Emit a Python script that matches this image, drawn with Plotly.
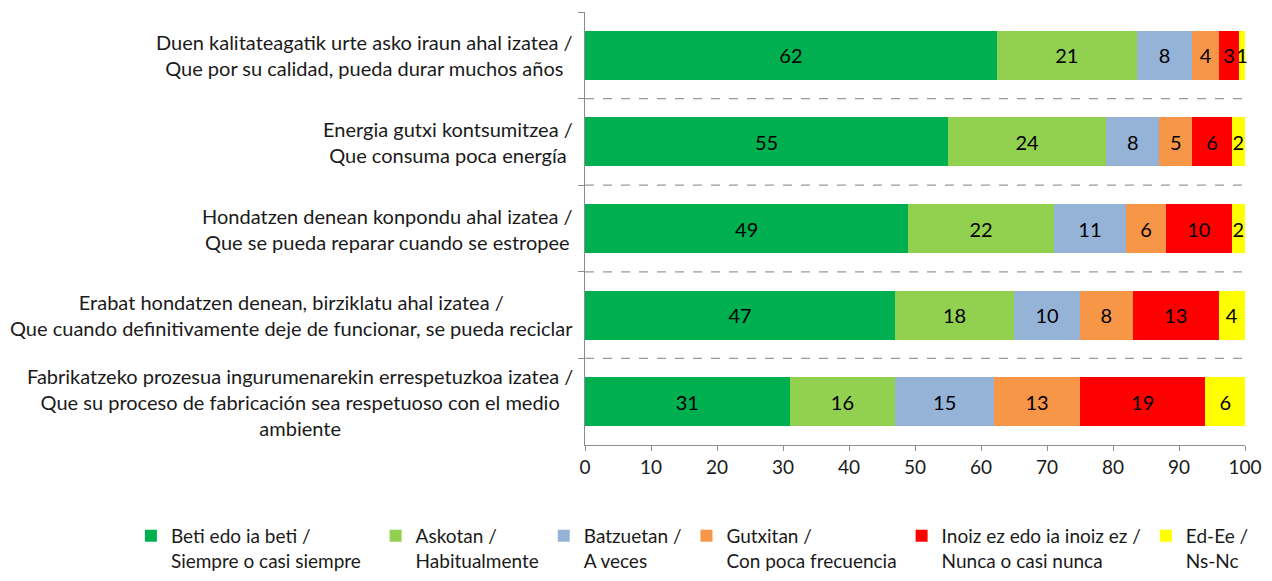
import plotly.graph_objects as go

categories = [
    "Duen kalitateagatik urte asko iraun ahal izatea /<br>Que por su calidad, pueda durar muchos años",
    "Energia gutxi kontsumitzea /<br>Que consuma poca energía",
    "Hondatzen denean konpondu ahal izatea /<br>Que se pueda reparar cuando se estropee",
    "Erabat hondatzen denean, birziklatu ahal izatea /<br>Que cuando definitivamente deje de funcionar, se pueda reciclar",
    "Fabrikatzeko prozesua ingurumenarekin errespetuzkoa izatea /<br>Que su proceso de fabricación sea respetuoso con el medio<br>ambiente",
]

series_line1 = ["Beti edo ia beti /", "Askotan /", "Batzuetan /", "Gutxitan /",
                "Inoiz ez edo ia inoiz ez /", "Ed-Ee /"]
series_line2 = ["Siempre o casi siempre", "Habitualmente", "A veces",
                "Con poca frecuencia", "Nunca o casi nunca", "Ns-Nc"]

beti = [62.4, 55, 49, 47, 31]
askotan = [21.2, 24, 22, 18, 16]
batzuetan = [8.4, 8, 11, 10, 15]
gutxitan = [4.1, 5, 6, 8, 13]
inoiz = [3.0, 6, 10, 13, 19]
ed_ee = [0.9, 2, 2, 4, 6]

x_ticks = [0, 10, 20, 30, 40, 50, 60, 70, 80, 90, 100]

colors = ["#00B050", "#92D050", "#95B3D7", "#F79646", "#FF0000", "#FFFF00"]
series_values = [beti, askotan, batzuetan, gutxitan, inoiz, ed_ee]

# extra spacing after some legend entries (to mimic the Excel legend layout)
legend_pad = [2, 0, 0, 0, 0, 0]

FONT = "Lato, 'Open Sans', sans-serif"

fig = go.Figure()
for l1, l2, vals, col, pad in zip(series_line1, series_line2, series_values, colors, legend_pad):
    sp = "\u00a0" * pad
    fig.add_trace(go.Bar(
        y=categories, x=vals, name=l1 + sp + "<br>" + l2 + sp, orientation="h",
        marker=dict(color=col, line=dict(width=0)),
        text=vals, texttemplate="%{x:.0f}", textposition="inside",
        insidetextanchor="middle", constraintext="none", textangle=0,
        textfont=dict(color="black", size=20, family=FONT),
        cliponaxis=False, hoverinfo="skip",
    ))

# category labels (centered multi-line, like Excel)
for c in categories:
    fig.add_annotation(
        x=-0.015, xref="paper", y=c, yref="y", text=c, showarrow=False,
        xanchor="right", yanchor="middle", align="center",
        font=dict(size=20, family=FONT, color="#1a1a1a"),
    )

# dashed separators between categories
for i in range(len(categories) - 1):
    fig.add_shape(
        type="line", xref="x", yref="y", x0=0, x1=100, y0=i + 0.5, y1=i + 0.5,
        line=dict(color="#9a9a9a", width=1.2, dash="dash"),
    )

fig.update_layout(
    barmode="stack",
    bargap=0.434,
    width=1256, height=565,
    margin=dict(l=577, r=19, t=4, b=128, autoexpand=False),
    paper_bgcolor="white", plot_bgcolor="white",
    font=dict(family=FONT, size=20, color="#1a1a1a"),
    xaxis=dict(
        range=[0, 100], tickvals=x_ticks, showgrid=False, zeroline=False,
        showline=True, linecolor="#8c8c8c", linewidth=1.2,
        ticks="outside", ticklen=5, tickcolor="#8c8c8c",
        tickfont=dict(size=19, family=FONT, color="#1a1a1a"),
    ),
    yaxis=dict(
        autorange="reversed", showticklabels=False, showgrid=False,
        zeroline=False, showline=True, linecolor="#8c8c8c", linewidth=1.2,
        ticks="outside", ticklen=6, tickcolor="#8c8c8c", tickson="boundaries",
    ),
    legend=dict(
        orientation="h", x=-0.688, xanchor="left", y=-0.166, yanchor="top",
        font=dict(size=19, family=FONT, color="#1a1a1a"),
        valign="top", traceorder="normal", itemwidth=30,
    ),
    showlegend=True,
)

fig.write_html("out.html")
